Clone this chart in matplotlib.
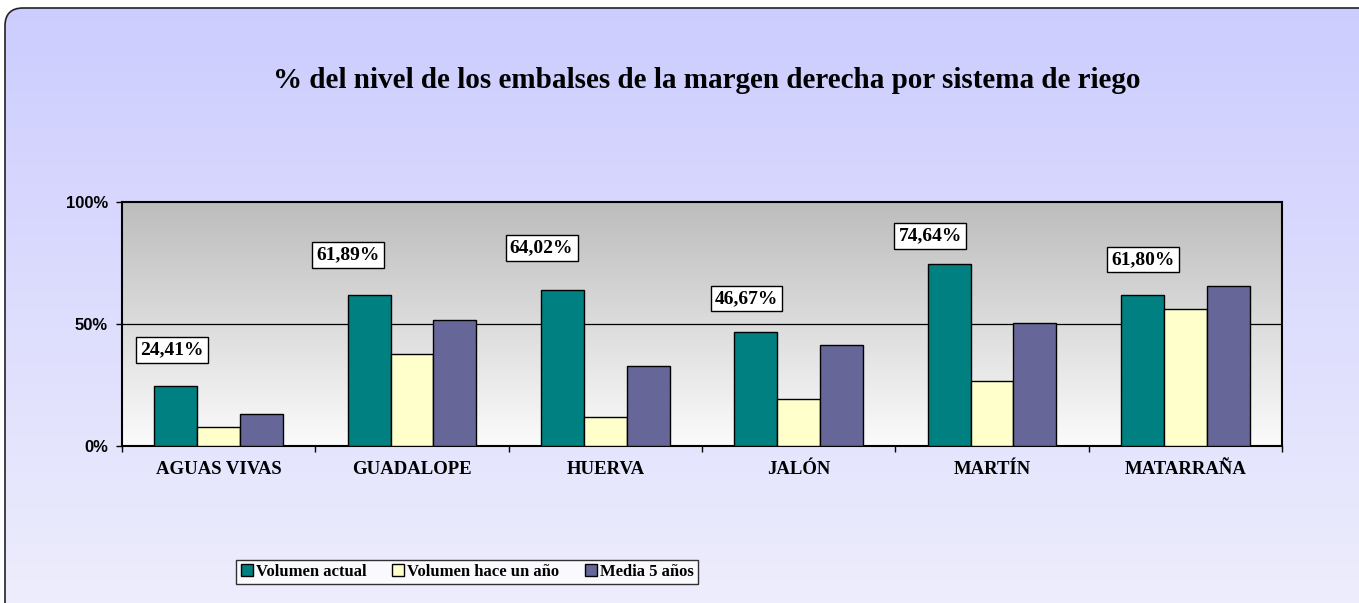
import numpy as np
import matplotlib
matplotlib.use("Agg")
from matplotlib import pyplot as plt
from matplotlib.patches import FancyBboxPatch
from matplotlib.lines import Line2D

categorias = ["AGUAS VIVAS", "GUADALOPE", "HUERVA", "JALÓN", "MARTÍN", "MATARRAÑA"]
volumen_actual = [24.41, 61.89, 64.02, 46.67, 74.64, 61.80]
volumen_hace_un_ano = [7.9, 37.6, 11.9, 19.3, 26.8, 56.3]
media_5_anos = [13.1, 51.6, 32.9, 41.5, 50.5, 65.4]
series_nombres = ["Volumen actual", "Volumen hace un año", "Media 5 años"]
etiquetas = ["24,41%", "61,89%", "64,02%", "46,67%", "74,64%", "61,80%"]

colores = ["#008080", "#FFFFCC", "#666699"]
serif = ["Liberation Serif", "DejaVu Serif"]

W, H = 1359, 603
fig = plt.figure(figsize=(W / 100, H / 100), dpi=100)

# fondo con degradado y borde redondeado
bg = fig.add_axes([0, 0, 1, 1])
bg.set_xlim(0, W)
bg.set_ylim(H, 0)
bg.axis("off")
grad = np.linspace(0, 1, 256).reshape(-1, 1)
top = np.array([0.80, 0.80, 1.0])
bot = np.array([0.93, 0.93, 0.99])
img = top + grad[..., None] * (bot - top)
im = bg.imshow(img, extent=[0, W, H, 0], aspect="auto", zorder=0)
caja = FancyBboxPatch((5, 8), W + 20, H + 20, boxstyle="round,pad=0,rounding_size=18",
                      facecolor="none", edgecolor="#222222", linewidth=1.2, zorder=2)
bg.add_patch(caja)
im.set_clip_path(caja)

fig.text(707 / W, 1 - 80 / H, "% del nivel de los embalses de la margen derecha por sistema de riego",
         ha="center", va="center", fontsize=21, fontweight="bold", family=serif)

ax = fig.add_axes([122 / W, 157 / H, 1160 / W, 244 / H])
x = np.arange(len(categorias))
w = 1 / 4.5

# degradado gris del area de trazado
g = np.linspace(0, 1, 256).reshape(-1, 1)
gris = 0.74 + g * (0.985 - 0.74)
ax.imshow(np.repeat(gris[..., None], 3, axis=2), extent=[-0.5, 5.5, 0, 100],
          aspect="auto", zorder=0, origin="upper")

for i, vals in enumerate([volumen_actual, volumen_hace_un_ano, media_5_anos]):
    ax.bar(x + (i - 1) * w, vals, width=w, color=colores[i], edgecolor="black",
           linewidth=1, zorder=3)

ax.axhline(50, color="black", linewidth=0.9, zorder=1)

label_dx = [-0.24, -0.33, -0.33, -0.27, -0.32, -0.22]
label_dy = [14.9, 16.4, 17.1, 13.8, 11.4, 14.6]
for i, t in enumerate(etiquetas):
    ax.text(x[i] + label_dx[i], volumen_actual[i] + label_dy[i], t, ha="center", va="center",
            fontsize=14, fontweight="bold", family=serif, zorder=5,
            bbox=dict(boxstyle="square,pad=0.22", facecolor="white", edgecolor="black", linewidth=1))

ax.set_xlim(-0.5, 5.5)
ax.set_ylim(0, 100)
ax.set_yticks([0, 50, 100])
ax.set_yticklabels(["0%", "50%", "100%"], fontsize=12, fontweight="bold", family=["Liberation Sans"])
ax.set_xticks(np.arange(-0.5, 6, 1))
ax.set_xticklabels([])
ax.set_xticks(x, minor=True)
ax.set_xticklabels(categorias, minor=True, fontsize=13.5, fontweight="bold", family=serif)
ax.tick_params(axis="x", which="minor", length=0, pad=11)
ax.tick_params(axis="x", which="major", length=4, width=1)
ax.tick_params(axis="y", length=4, width=1, pad=6)
for s in ax.spines.values():
    s.set_linewidth(1.5)
    s.set_color("black")

handles = [Line2D([], [], marker="s", linestyle="none", markersize=8, markerfacecolor=c,
                  markeredgecolor="black", markeredgewidth=1) for c in colores]
leg = fig.legend(handles, series_nombres, loc="center", bbox_to_anchor=(467 / W, 1 - 572 / H),
                 ncol=3, frameon=True, fancybox=False, shadow=False, handlelength=0.8,
                 handletextpad=0.15, columnspacing=1.5, borderpad=0.25, borderaxespad=0,
                 prop=dict(family=serif, weight="bold", size=12))
leg.get_frame().set_edgecolor("black")
leg.get_frame().set_linewidth(1)

fig.savefig("out.png", dpi=100)
